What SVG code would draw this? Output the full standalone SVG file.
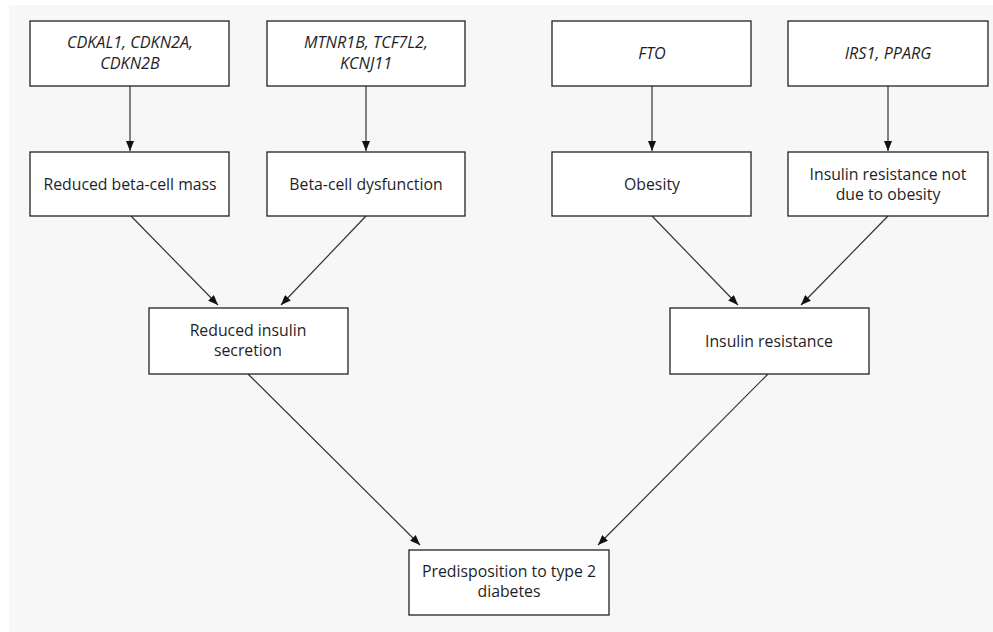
<svg xmlns="http://www.w3.org/2000/svg" width="993" height="632" viewBox="0 0 993 632">
<defs>
<style>
.box{fill:#ffffff;stroke:#222;stroke-width:1.3}
.t{font-family:"Open Sans","Noto Sans",sans-serif;font-size:15.8px;fill:#1e1e28;text-anchor:middle}
.i{font-style:italic;font-size:16.2px}
.c{stroke:#333;stroke-width:1.2;fill:none;marker-end:url(#ah)}
</style>
<marker id="ah" markerWidth="10" markerHeight="8" refX="10" refY="4" orient="auto" markerUnits="userSpaceOnUse">
<path d="M0,0 L10,4 L0,8 Z" fill="#111"/>
</marker>
</defs>
<rect x="0" y="0" width="993" height="632" fill="#ffffff"/>
<rect x="9" y="5" width="984" height="627" fill="#f7f7f7"/>
<g id="connectors">
<line class="c" x1="130" y1="86" x2="130" y2="151"/>
<line class="c" x1="366" y1="86" x2="366" y2="151"/>
<line class="c" x1="652" y1="86" x2="652" y2="151"/>
<line class="c" x1="888" y1="86" x2="888" y2="151"/>
<line class="c" x1="131" y1="216" x2="218" y2="305"/>
<line class="c" x1="366" y1="216" x2="281" y2="305"/>
<line class="c" x1="652" y1="216" x2="738" y2="305"/>
<line class="c" x1="888" y1="216" x2="801" y2="305"/>
<line class="c" x1="248" y1="374" x2="420" y2="545"/>
<line class="c" x1="768" y1="374" x2="598" y2="545"/>
</g>
<g id="n1"><rect class="box" x="30" y="21" width="199" height="65"/><text class="t i" x="130" y="48">CDKAL1, CDKN2A,</text><text class="t i" x="130" y="69">CDKN2B</text></g>
<g id="n2"><rect class="box" x="267" y="21" width="198" height="65"/><text class="t i" x="366" y="48">MTNR1B, TCF7L2,</text><text class="t i" x="366" y="69">KCNJ11</text></g>
<g id="n3"><rect class="box" x="552" y="21" width="199" height="65"/><text class="t i" x="652" y="59">FTO</text></g>
<g id="n4"><rect class="box" x="788" y="21" width="200" height="65"/><text class="t i" x="888" y="59">IRS1, PPARG</text></g>
<g id="n5"><rect class="box" x="30" y="152" width="199" height="64"/><text class="t" x="130" y="190">Reduced beta-cell mass</text></g>
<g id="n6"><rect class="box" x="267" y="152" width="198" height="64"/><text class="t" x="366" y="190">Beta-cell dysfunction</text></g>
<g id="n7"><rect class="box" x="552" y="152" width="199" height="64"/><text class="t" x="652" y="190">Obesity</text></g>
<g id="n8"><rect class="box" x="788" y="152" width="200" height="64"/><text class="t" x="888" y="180">Insulin resistance not</text><text class="t" x="888" y="200">due to obesity</text></g>
<g id="n9"><rect class="box" x="149" y="308" width="199" height="66"/><text class="t" x="248" y="336">Reduced insulin</text><text class="t" x="248" y="356">secretion</text></g>
<g id="n10"><rect class="box" x="670" y="308" width="199" height="66"/><text class="t" x="769" y="347">Insulin resistance</text></g>
<g id="n11"><rect class="box" x="409" y="550" width="200" height="65"/><text class="t" x="509" y="577">Predisposition to type 2</text><text class="t" x="509" y="597">diabetes</text></g>
</svg>
